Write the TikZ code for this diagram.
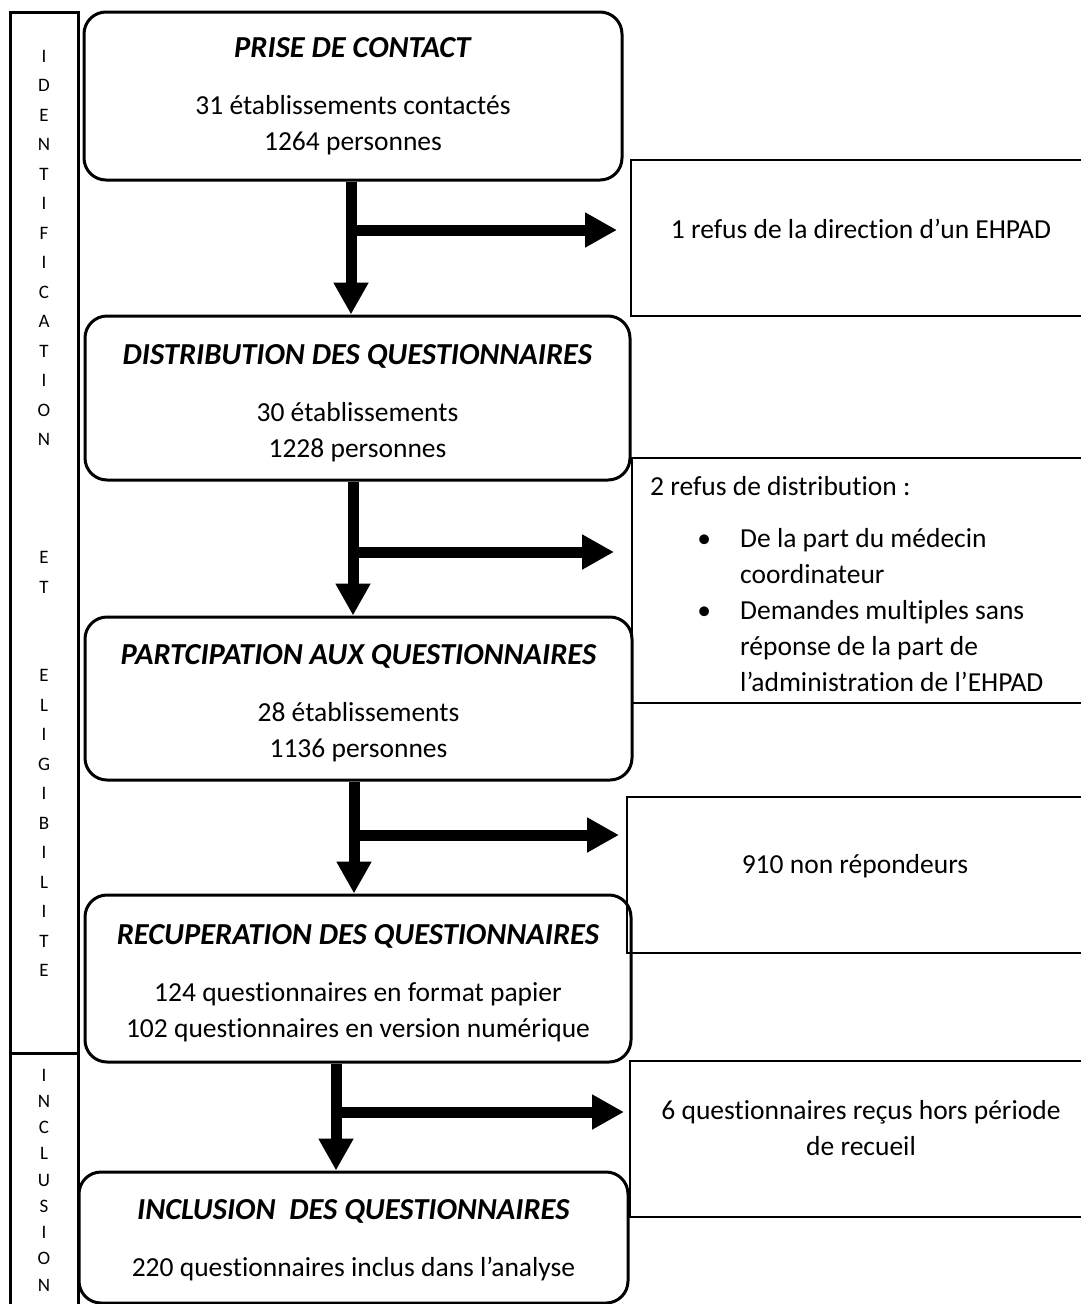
\documentclass[tikz,border=0pt]{standalone}
\usepackage{fontspec}
\setmainfont{Carlito}[Ligatures=NoCommon]
\usetikzlibrary{arrows.meta}
\newcommand{\Ttl}[2][0pt]{\rule{0pt}{#1}{\fontsize{30.5}{36}\selectfont\textbf{\textit{#2}}}\\[21pt]}
\newcommand{\Itm}{\hspace*{40pt}\makebox[28pt]{\textbullet}\hspace*{22pt}}
\newcommand{\Ind}{\hspace*{90pt}}

\begin{document}
\begin{tikzpicture}[x=1pt,y=-1pt,
  Step/.style={draw,line width=3pt,rounded corners=22pt,align=center,inner sep=0pt,font=\fontsize{27.5}{36}\selectfont},
  Side/.style={draw,line width=2pt,inner sep=0pt},
  Note/.style={align=center,inner sep=0pt,font=\fontsize{27.5}{36}\selectfont},
  Lbl/.style={align=center,inner sep=0pt,font=\fontsize{19}{29.5}\selectfont},
  Flow/.style={line width=11pt,-{Triangle[length=32pt,width=33pt]}}]
\useasboundingbox (0,0) rectangle (1081,1304);

\draw[line width=3pt] (10,12) rectangle (78,1053);
\draw[line width=3pt] (10,1053) rectangle (78,1330);
\node[Lbl] (L1) at (44,513.5) {I\\D\\E\\N\\T\\I\\F\\I\\C\\A\\T\\I\\O\\N\\~\\~\\~\\E\\T\\~\\~\\E\\L\\I\\G\\I\\B\\I\\L\\I\\T\\E};
\node[Lbl,font=\fontsize{19}{26.25}\selectfont] (L2) at (44,1180) {I\\N\\C\\L\\U\\S\\I\\O\\N};

\node[Step,minimum width=538,minimum height=168] (B1) at (353,96) {\Ttl{PRISE DE CONTACT}31 établissements contactés\\1264 personnes};
\node[Step,minimum width=545,minimum height=164] (B2) at (357.5,398) {\Ttl[30pt]{DISTRIBUTION DES QUESTIONNAIRES}30 établissements\\1228 personnes};
\node[Step,minimum width=547,minimum height=163] (B3) at (358.5,698.5) {\Ttl[30pt]{PARTCIPATION AUX QUESTIONNAIRES}28 établissements\\1136 personnes};
\node[Step,minimum width=546,minimum height=167] (B4) at (358,978.5) {\Ttl[29pt]{RECUPERATION DES QUESTIONNAIRES}124 questionnaires en format papier\\102 questionnaires en version numérique};
\node[Step,minimum width=549,minimum height=131] (B5) at (353.5,1237.5) {\Ttl[26pt]{INCLUSION\ \ DES QUESTIONNAIRES}220 questionnaires inclus dans l’analyse};

\node[Side,minimum width=460,minimum height=156] (R1) at (861,238) {};
\node[Note] (T1) at (861,229) {1 refus de la direction d’un EHPAD};
\node[Side,minimum width=459,minimum height=245] (R2) at (861.5,580.5) {};
\node[Note,anchor=north west,align=left] (T2) at (650,476) {2 refus de distribution :\\[16pt]
  \Itm De la part du médecin\\
  \Ind coordinateur\\
  \Itm Demandes multiples sans\\
  \Ind réponse de la part de\\
  \Ind l’administration de l’EHPAD};
\node[Side,minimum width=464,minimum height=156] (R3) at (859,875) {};
\node[Note] (T3) at (855,866) {910 non répondeurs};
\node[Side,minimum width=461,minimum height=156] (R4) at (860.5,1139) {};
\node[Note] (T4) at (861,1128) {6 questionnaires reçus hors période\\de recueil};

\coordinate (J1) at (351,230);
\coordinate (J2) at (353,552);
\coordinate (J3) at (354,835);
\coordinate (J4) at (336,1112);
\draw[Flow] (J1 |- B1.south) -- (J1 |- B2.north);
\draw[Flow,shorten >=13pt] (J1) -- (J1 -| R1.west);
\draw[Flow] (J2 |- B2.south) -- (J2 |- B3.north);
\draw[Flow,shorten >=17pt] (J2) -- (J2 -| R2.west);
\draw[Flow] (J3 |- B3.south) -- (J3 |- B4.north);
\draw[Flow,shorten >=7pt] (J3) -- (J3 -| R3.west);
\draw[Flow] (J4 |- B4.south) -- (J4 |- B5.north);
\draw[Flow,shorten >=5pt] (J4) -- (J4 -| R4.west);
\end{tikzpicture}
\end{document}
